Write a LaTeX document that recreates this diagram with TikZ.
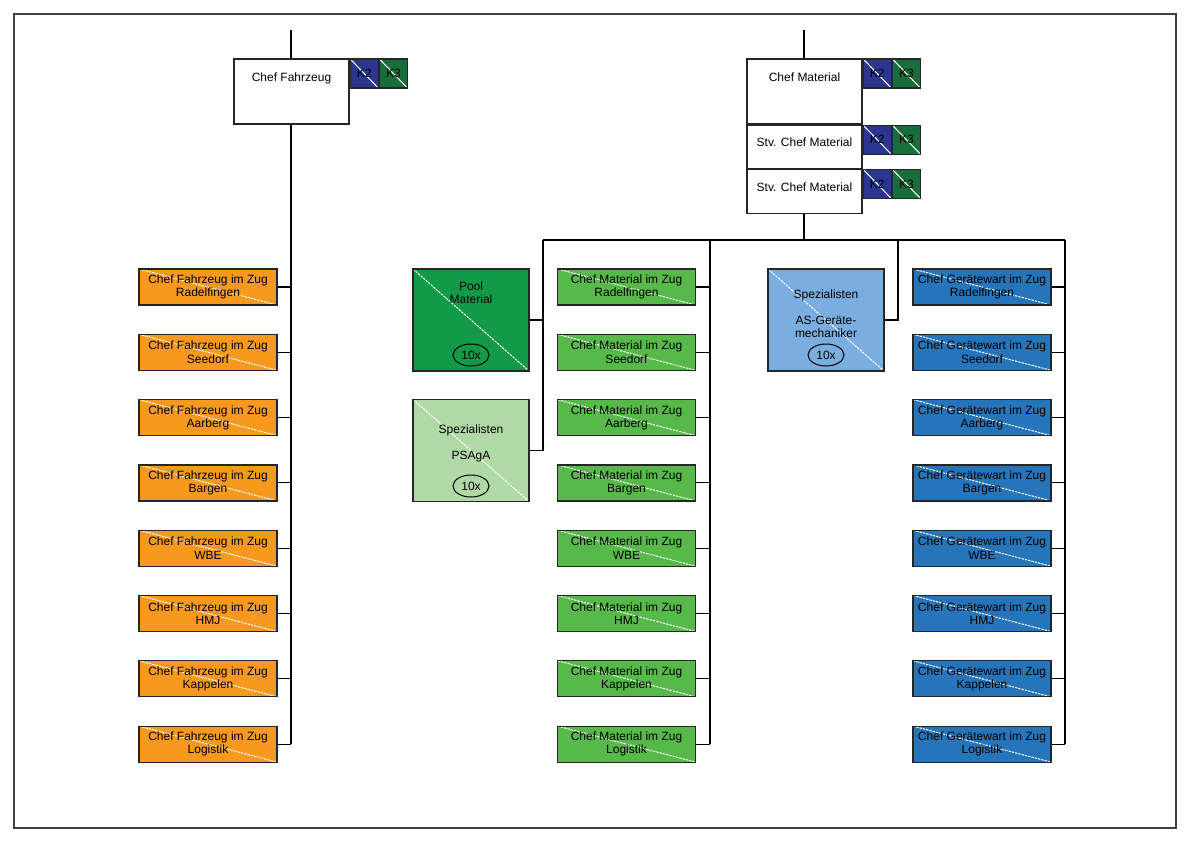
\documentclass[tikz,border=0pt]{standalone}
\usepackage{fontspec}
\setmainfont{Liberation Sans}
\usetikzlibrary{shapes.geometric}
\definecolor{corange}{RGB}{247,153,29}
\definecolor{cgreen}{RGB}{86,185,73}
\definecolor{cblue}{RGB}{38,117,187}
\definecolor{cpool}{RGB}{19,154,72}
\definecolor{cpsaga}{RGB}{177,217,168}
\definecolor{cas}{RGB}{122,173,224}
\definecolor{ckb}{RGB}{43,54,145}
\definecolor{ckg}{RGB}{24,110,58}
\tikzset{
  base/.style={draw=black!85, line width=0.6bp, inner sep=0pt, align=center},
  diag/.style={path picture={\draw[white, line width=0.5bp, dash pattern=on 1.2bp off 0.5bp]
     (path picture bounding box.north west) -- (path picture bounding box.south east);}},
  kdiag/.style={path picture={\draw[white, line width=0.5bp]
     (path picture bounding box.north west) -- (path picture bounding box.south east);}},
  smallbox/.style={base, diag, minimum width=69bp, minimum height=18bp},
  bigbox/.style={base, diag, minimum width=58bp, minimum height=51bp},
  headbox/.style={base, fill=white, minimum width=57.5bp},
  kbox/.style={base, kdiag, minimum width=14bp, minimum height=14.5bp, anchor=north west},
  oval/.style={ellipse, draw=black, line width=0.5bp, minimum width=18bp, minimum height=11bp, inner sep=0pt},
  conn/.style={draw=black, line width=0.55bp},
  frame/.style={draw=black!75, line width=0.7bp},
}
\begin{document}
\begin{tikzpicture}[x=0.5bp, y=-0.5bp, font=\fontsize{6bp}{6.6bp}\selectfont]
\useasboundingbox (0,0) rectangle (1191,842);
\draw[frame] (14,14) rectangle (1176,828);

% heads
\node[headbox, minimum height=32.5bp, label={[yshift=6.75bp]center:Chef Fahrzeug}] (cf) at (291.5,91.5) {};
\node[kbox, fill=ckb] (cfk2) at (cf.north east) {K2};
\node[kbox, fill=ckg] (cfk3) at (cfk2.north east) {K3};

\node[headbox, minimum height=32.5bp, label={[yshift=7.25bp]center:Chef Material}] (cm) at (804.5,91.5) {};
\node[headbox, minimum height=21.5bp, anchor=north, label={[yshift=2.2bp]center:Stv. Chef Material}] (s1) at (cm.south) {};
\node[headbox, minimum height=22bp, anchor=north, label={[yshift=2bp]center:Stv. Chef Material}] (s2) at (s1.south) {};
\node[kbox, fill=ckb] (cmk2) at (cm.north east) {K2};
\node[kbox, fill=ckg] (cmk3) at (cmk2.north east) {K3};
\node[kbox, fill=ckb] (s1k2) at (s1.north east) {K2};
\node[kbox, fill=ckg] (s1k3) at (s1k2.north east) {K3};
\node[kbox, fill=ckb] (s2k2) at (s2.north east) {K2};
\node[kbox, fill=ckg] (s2k3) at (s2k2.north east) {K3};

% big boxes
\node[bigbox, fill=cpool, label={[yshift=13.75bp, align=center]center:Pool\\Material}] (pool) at (471,320) {};
\node[oval] (e1) at (471,355) {10x};
\node[bigbox, fill=cpsaga, label={[yshift=3.75bp, align=center]center:Spezialisten\\[6.5bp]PSAgA}] (ps) at (471,450.5) {};
\node[oval] (e2) at (471,486) {10x};
\node[bigbox, fill=cas, label={[yshift=3.25bp, align=center]center:Spezialisten\\[6.5bp]AS-Geräte-\\mechaniker}] (as) at (826,320) {};
\node[oval] (e3) at (826,355) {10x};

% rows
\foreach \n [count=\i] in {Radelfingen,Seedorf,Aarberg,Bargen,WBE,HMJ,Kappelen,Logistik} {
  \node[smallbox, fill=corange] (o\i) at (208,{287+65.3*(\i-1)}) {Chef Fahrzeug im Zug\\\n};
  \node[smallbox, fill=cgreen] (g\i) at (626.5,{287+65.3*(\i-1)}) {Chef Material im Zug\\\n};
  \node[smallbox, fill=cblue] (b\i) at (982,{287+65.3*(\i-1)}) {Chef Gerätewart im Zug\\\n};
}

% connectors
\coordinate (t1) at (291,30);
\coordinate (t2) at (804,30);
\draw[conn] (t1) -- (t1 |- cf.north);
\draw[conn] (t2) -- (t2 |- cm.north);
\draw[conn] (cf.south -| t1) -- (t1 |- o8.east);
\foreach \i in {1,...,8} {
  \draw[conn] (o\i.east) -- (o\i.east -| t1);
}
\coordinate (hub) at (804,240);
\coordinate (hl) at (543,240);
\coordinate (hr) at (1065,240);
\coordinate (gtop) at (710,240);
\coordinate (atop) at (898,240);
\draw[conn] (s2.south -| hub) -- (hub);
\draw[conn] (hl) -- (hr);
\draw[conn] (hl) -- (hl |- ps.east) -- (ps.east);
\draw[conn] (pool.east) -- (pool.east -| hl);
\draw[conn] (atop) -- (atop |- as.east) -- (as.east);
\draw[conn] (gtop) -- (gtop |- g8.east);
\draw[conn] (hr) -- (hr |- b8.east);
\foreach \i in {1,...,8} {
  \draw[conn] (g\i.east) -- (g\i.east -| gtop);
  \draw[conn] (b\i.east) -- (b\i.east -| hr);
}
\end{tikzpicture}
\end{document}
